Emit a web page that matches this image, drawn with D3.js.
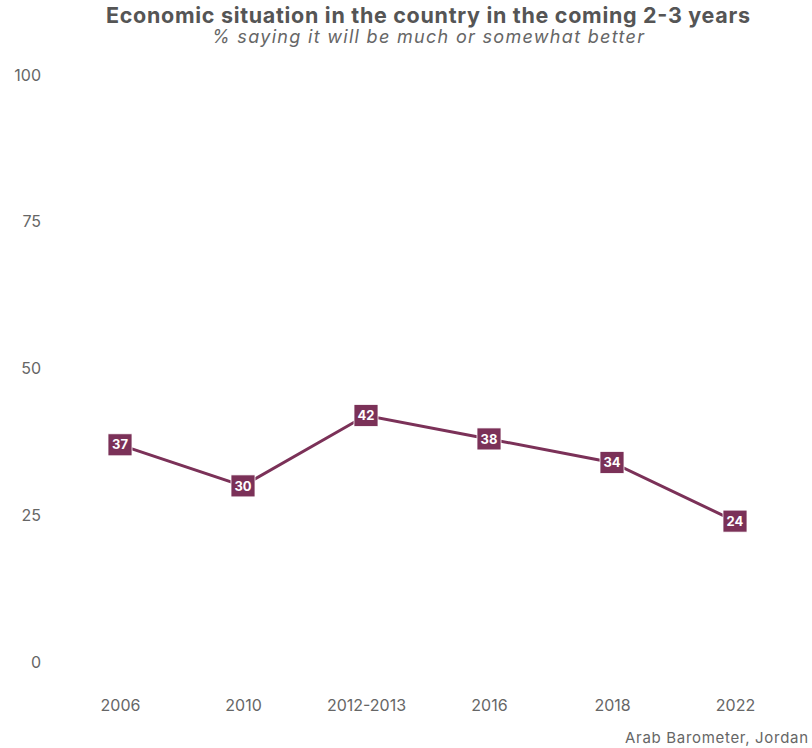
<!DOCTYPE html>
<html>
<head>
<meta charset="utf-8">
<script src="https://cdn.jsdelivr.net/npm/d3@7"></script>
<style>
  body { margin: 0; background: #fff; }
  svg { display: block; font-family: "Inter", "Lato", sans-serif; }
</style>
</head>
<body>
<svg id="chart" width="812" height="748"></svg>
<script>
const categories = ["2006", "2010", "2012-2013", "2016", "2018", "2022"];
const values = [37, 30, 42, 38, 34, 24];
const yTicks = [0, 25, 50, 75, 100];
const title = "Economic situation in the country in the coming 2-3 years";
const subtitle = "% saying it will be much or somewhat better";
const caption = "Arab Barometer, Jordan";
const color = "#7b3158";

const svg = d3.select("#chart");
const x = d3.scalePoint().domain(categories).range([58.5, 796.5]).padding(0.5);
const y = d3.scaleLinear().domain([0, 100]).range([662, 75]);

// title
svg.append("text").attr("x", 428).attr("y", 23).attr("text-anchor", "middle")
  .attr("font-size", 21.5).attr("font-weight", 700).attr("fill", "#555")
  .attr("textLength", 644).attr("lengthAdjust", "spacing").text(title);
svg.append("text").attr("x", 428).attr("y", 43).attr("text-anchor", "middle")
  .attr("font-size", 18).attr("font-style", "italic").attr("fill", "#666")
  .attr("textLength", 432).attr("lengthAdjust", "spacing").text(subtitle);

// y axis
const yAxis = d3.axisLeft(y).tickValues(yTicks).tickSize(0).tickPadding(0);
const gy = svg.append("g").attr("transform", "translate(41,0)").call(yAxis);
gy.select(".domain").remove();
gy.selectAll("text").attr("font-size", 16).attr("fill", "#666").attr("font-family", "Inter, Lato, sans-serif");

// x axis
const xAxis = d3.axisBottom(x).tickSize(0).tickPadding(0);
const gx = svg.append("g").attr("transform", "translate(0,700)").call(xAxis);
gx.select(".domain").remove();
gx.selectAll("text").attr("font-size", 16).attr("fill", "#666").attr("font-family", "Inter, Lato, sans-serif");

// line
const data = categories.map((c, i) => ({ c, v: values[i] }));
svg.append("path").datum(data)
  .attr("fill", "none").attr("stroke", color).attr("stroke-width", 3)
  .attr("d", d3.line().x(d => x(d.c)).y(d => y(d.v)));

// labels
const lab = svg.append("g").selectAll("g").data(data).join("g")
  .attr("transform", d => `translate(${x(d.c)},${y(d.v)})`);
lab.append("rect").attr("x", -12).attr("y", -11).attr("width", 24).attr("height", 22)
  .attr("fill", color).attr("stroke", "#fff").attr("stroke-width", 0.8);
lab.append("text").attr("text-anchor", "middle").attr("dy", "0.36em")
  .attr("font-size", 13).attr("font-weight", 700).attr("fill", "#fff").text(d => d.v);

// caption
svg.append("text").attr("x", 808).attr("y", 743).attr("text-anchor", "end")
  .attr("font-size", 15).attr("fill", "#666")
  .attr("textLength", 183).attr("lengthAdjust", "spacing").text(caption);
</script>
</body>
</html>
